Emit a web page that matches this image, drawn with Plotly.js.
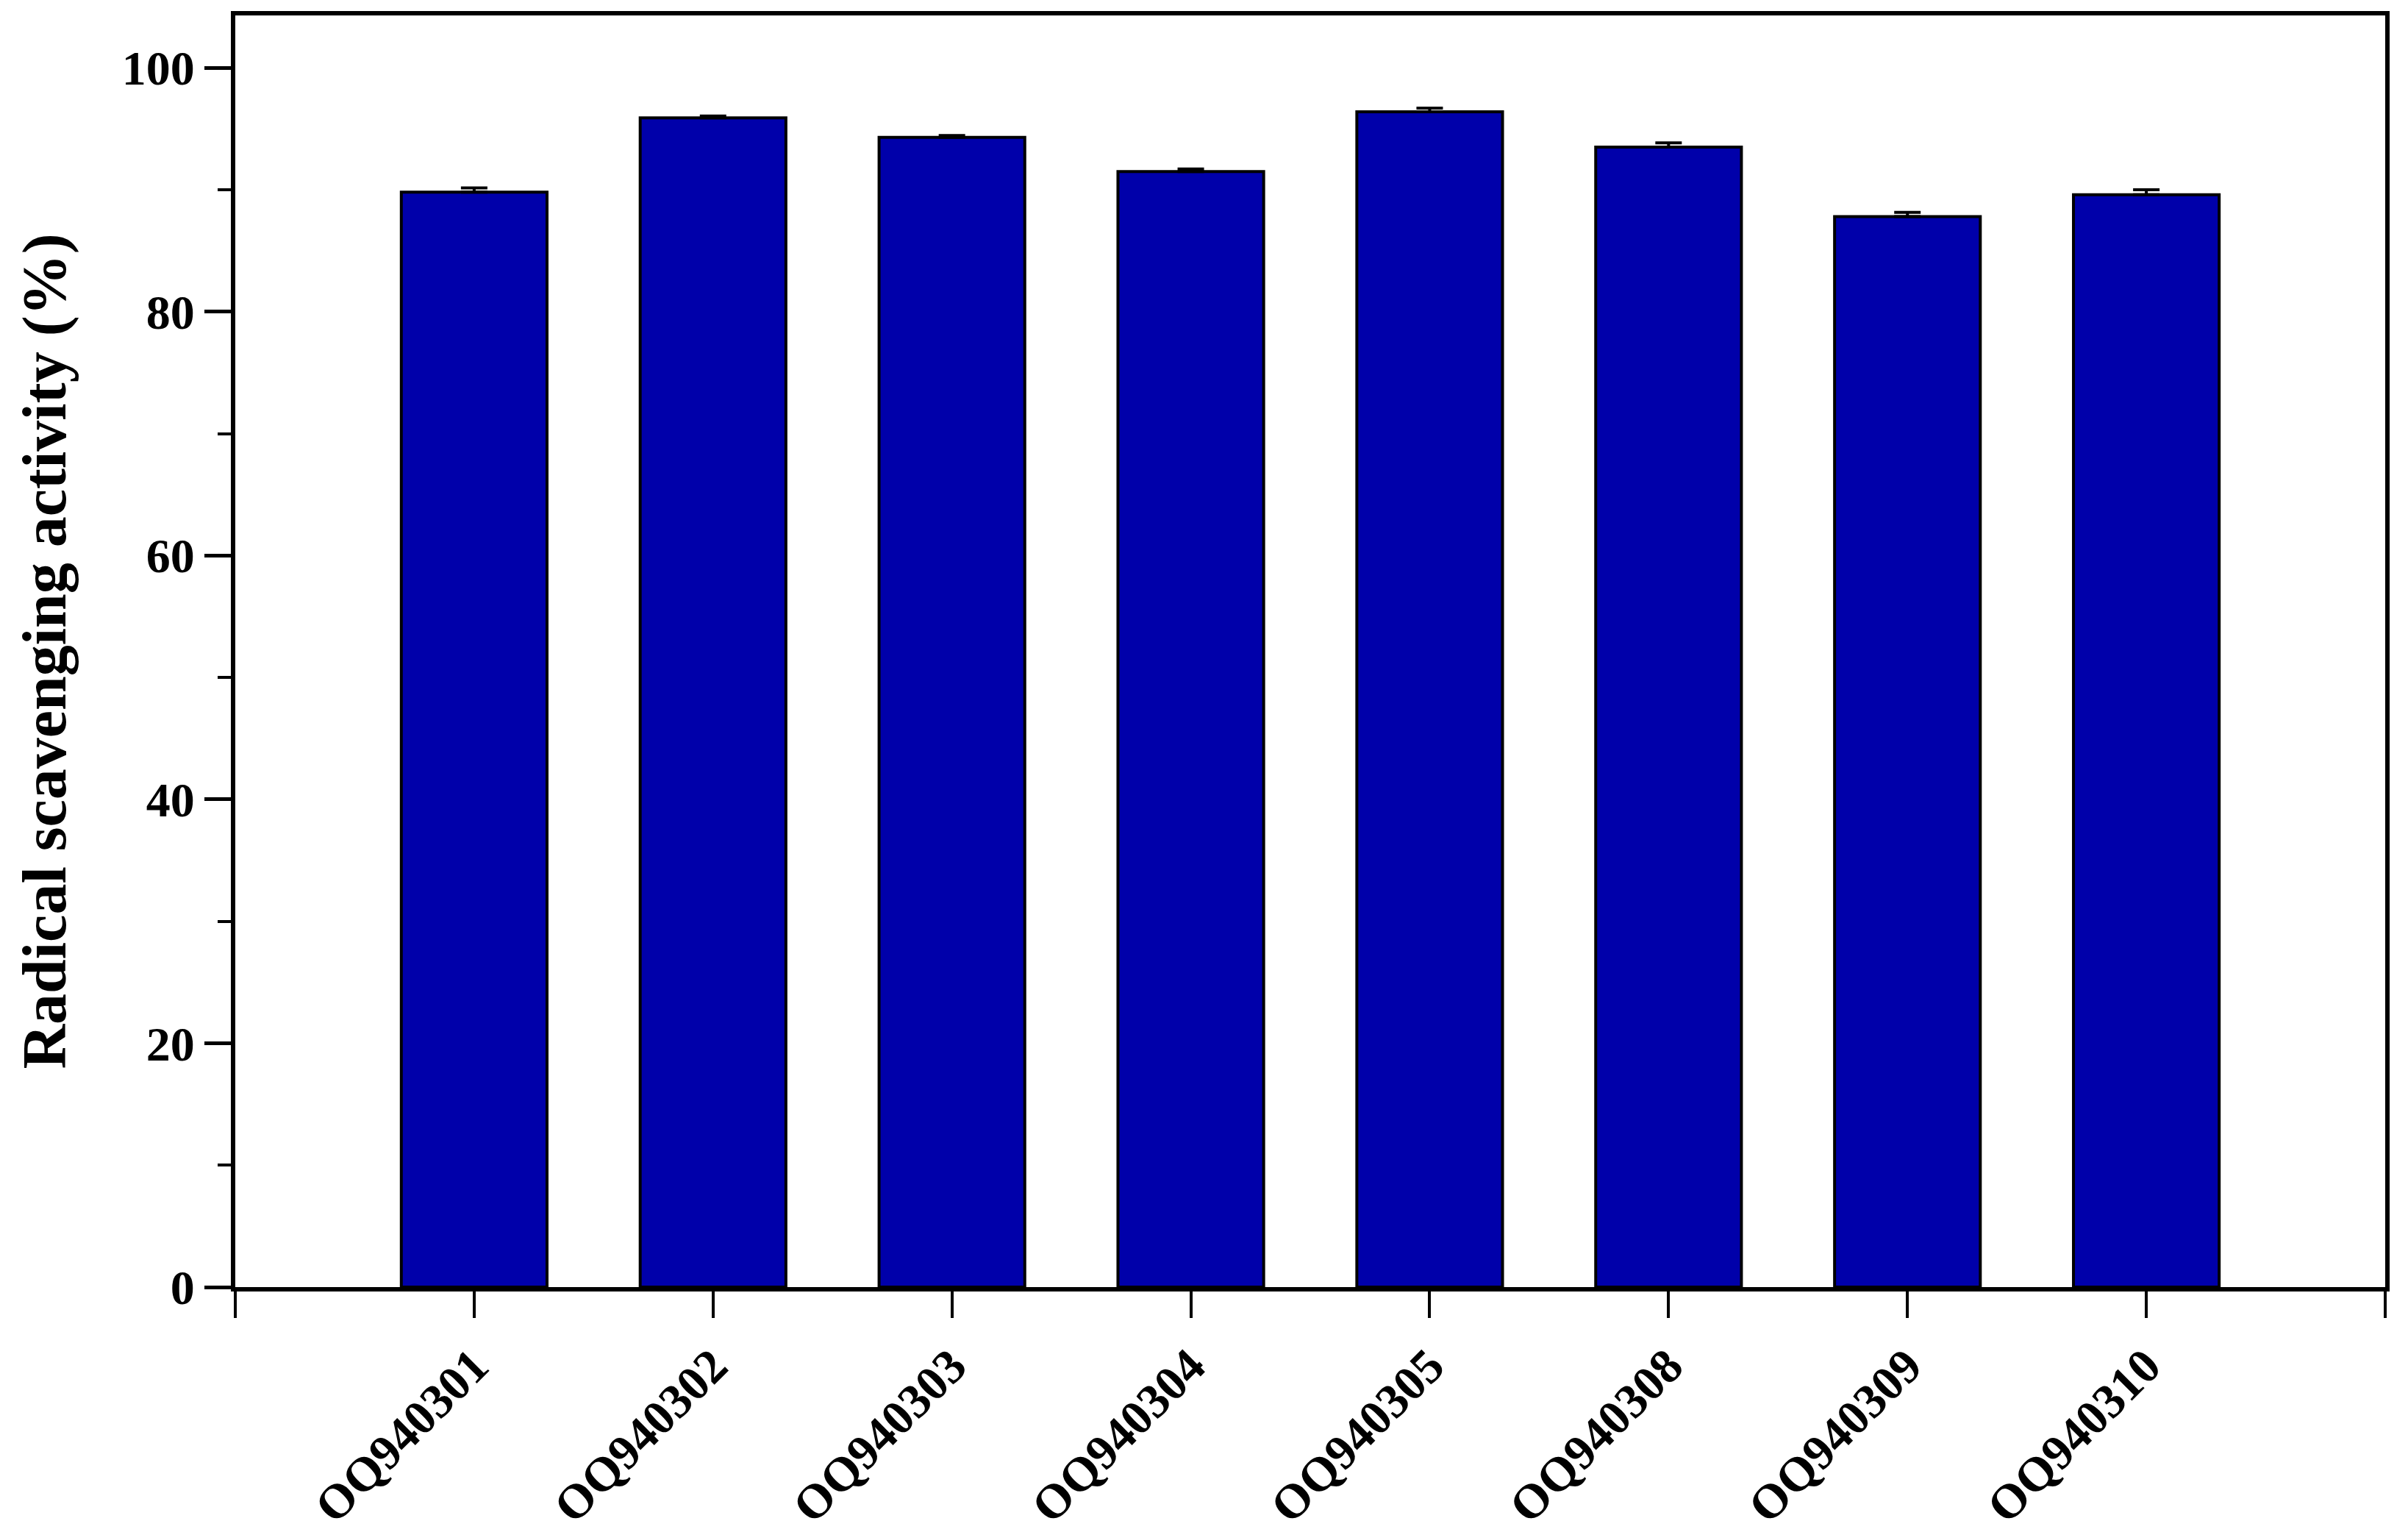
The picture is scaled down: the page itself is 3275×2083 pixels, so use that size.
<!DOCTYPE html>
<html>
<head>
<meta charset="utf-8">
<script src="https://cdn.plot.ly/plotly-3.0.1.min.js"></script>
<style>
  html, body { margin: 0; padding: 0; background: #ffffff; }
  #chart { width: 3275px; height: 2083px; }
</style>
</head>
<body>
<div id="chart"></div>
<script>
// ---- data ----
const strains = ["OQ940301", "OQ940302", "OQ940303", "OQ940304", "OQ940305", "OQ940308", "OQ940309", "OQ940310"];
const activity = [89.8, 95.9, 94.3, 91.5, 96.4, 93.5, 87.8, 89.6];
const activityErr = [0.35, 0.15, 0.15, 0.2, 0.3, 0.35, 0.35, 0.4];
const yTickVals = [0, 20, 40, 60, 80, 100];
const yTickText = ["0", "20", "40", "60", "80", "100"];
const yTitle = "Radical scavenging activity (%)";

// positions derived from category order
const xPos = strains.map((s, i) => i);
const xTickVals = [-1].concat(xPos, [strains.length]);
const xTickText = [""].concat(strains, [""]);

const FONT = "Liberation Serif, Times New Roman, serif";

const trace = {
  type: "bar",
  x: xPos,
  y: activity,
  width: 0.61,
  marker: { color: "#0000AA", line: { color: "#000000", width: 4 } },
  error_y: {
    type: "data",
    symmetric: false,
    array: activityErr,
    arrayminus: activityErr.map(() => 0),
    color: "#000000",
    thickness: 4,
    width: 18
  },
  hoverinfo: "skip"
};

const layout = {
  width: 3275,
  height: 2083,
  paper_bgcolor: "#ffffff",
  plot_bgcolor: "#ffffff",
  showlegend: false,
  margin: { l: 320, r: 31, t: 21, b: 333, pad: 0 },
  font: { family: FONT, color: "#000000" },
  xaxis: {
    type: "linear",
    range: [-1, strains.length],
    tickmode: "array",
    tickvals: xTickVals,
    ticktext: xTickText,
    tickangle: -45,
    ticks: "outside",
    ticklen: 36,
    tickwidth: 4,
    tickcolor: "#000000",
    showline: true,
    linecolor: "#000000",
    linewidth: 6,
    mirror: true,
    showgrid: false,
    zeroline: false,
    tickfont: { family: FONT, size: 66, color: "#000000", weight: "bold" },
    automargin: false
  },
  yaxis: {
    range: [0, 104.3],
    tickmode: "array",
    tickvals: yTickVals,
    ticktext: yTickText,
    ticks: "outside",
    ticklen: 36,
    tickwidth: 5,
    tickcolor: "#000000",
    minor: { dtick: 10, tick0: 0, ticks: "outside", ticklen: 18, tickwidth: 4, tickcolor: "#000000", showgrid: false },
    showline: true,
    linecolor: "#000000",
    linewidth: 6,
    mirror: true,
    showgrid: false,
    zeroline: false,
    tickfont: { family: FONT, size: 66, color: "#000000", weight: "bold" },
    title: { text: yTitle, font: { family: FONT, size: 84, color: "#000000", weight: "bold" }, standoff: 50 },
    automargin: false
  }
};

Plotly.newPlot("chart", [trace], layout, { staticPlot: true, displayModeBar: false });
</script>
</body>
</html>
